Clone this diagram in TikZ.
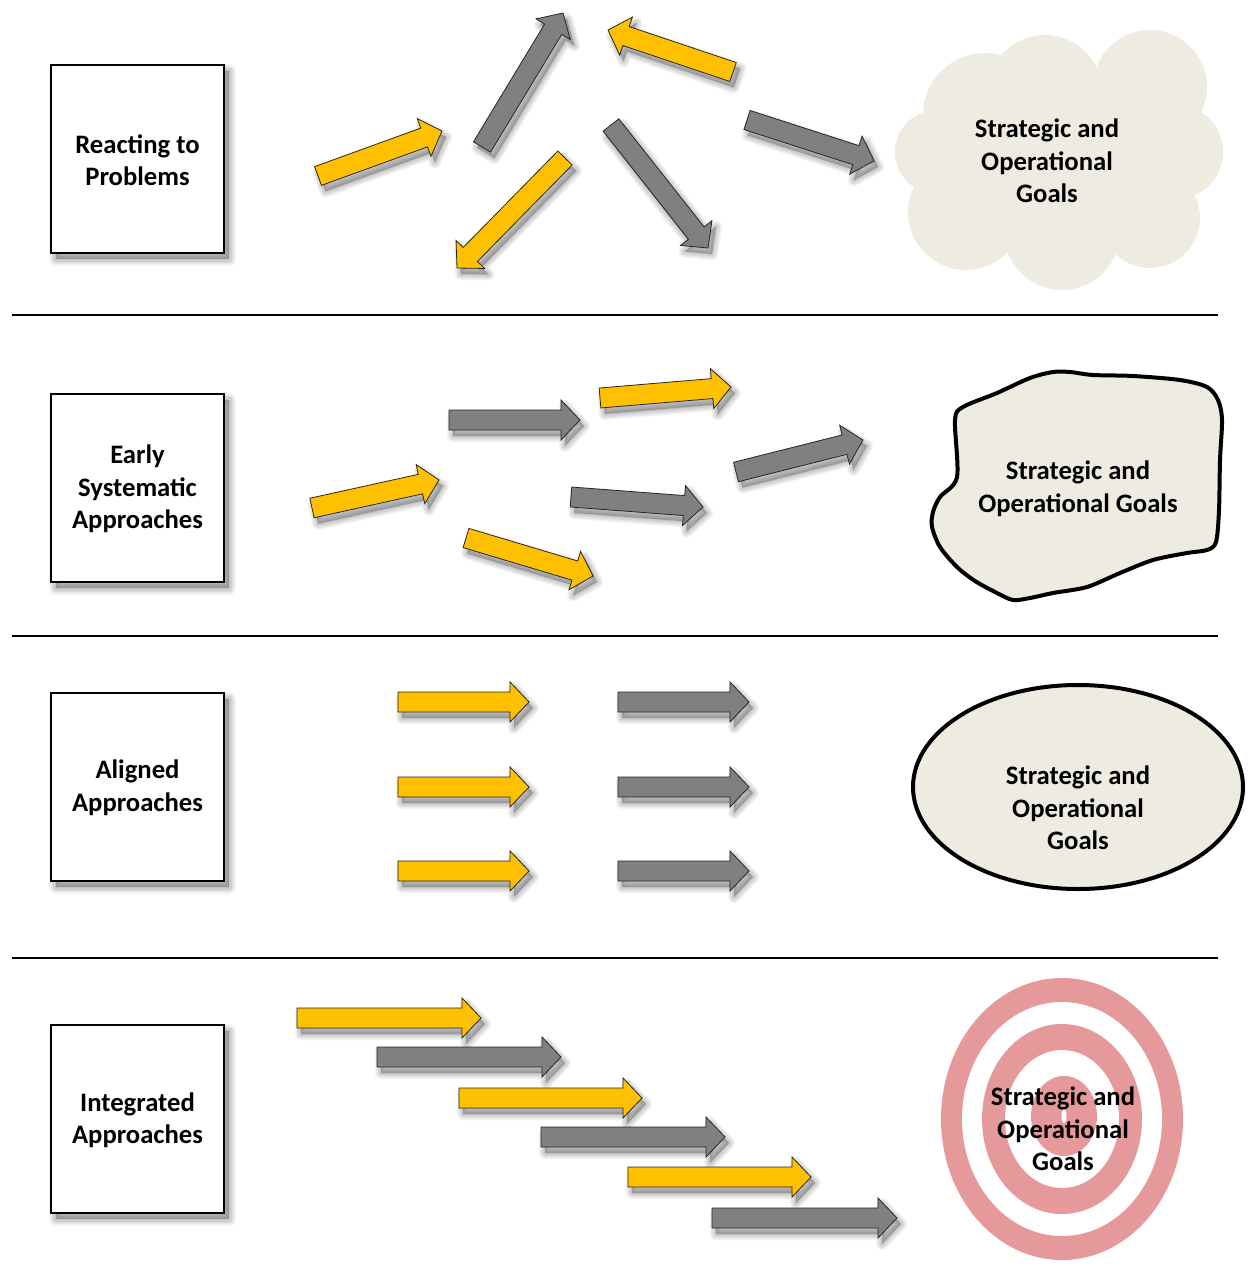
\documentclass[tikz,border=0pt]{standalone}
\usepackage{fontspec}
\setmainfont{Carlito}
\definecolor{ayellow}{HTML}{FFC000}
\definecolor{agray}{HTML}{808080}
\definecolor{beige}{HTML}{EEECE1}
\definecolor{pinkr}{HTML}{E6999A}
\tikzset{
  lbl/.style={font=\bfseries\fontsize{20}{24.4}\selectfont, align=center, inner sep=0pt},
  arrowbody/.style={draw=black!85, line width=0.6pt, line join=miter},
  stagebox/.style={draw=black, line width=1.2pt, fill=white},
  sepline/.style={draw=black, line width=1.8pt},
  shadowlayer/.style={fill=black, draw=black, fill opacity=0.05, draw opacity=0.05, line join=round}
}
\newcommand\blockarrow[5]{%
  \pgfmathsetmacro\baang{atan2(-(#4-#2),#3-#1)}%
  \pgfmathsetmacro\balen{veclen(#3-#1,#4-#2)}%
  \pgfmathsetmacro\bahs{\balen-19}%
  \foreach \lw in {9,7,5,3,1}{%
    \path[shadowlayer, line width=\lw, shift={(#1+4,#2+6)}, rotate=\baang]
      (0,-10) -- (\bahs,-10) -- (\bahs,-20) -- (\balen,0) -- (\bahs,20) -- (\bahs,10) -- (0,10) -- cycle;}
  \path[arrowbody, fill=#5, shift={(#1,#2)}, rotate=\baang]
      (0,-10) -- (\bahs,-10) -- (\bahs,-20) -- (\balen,0) -- (\bahs,20) -- (\bahs,10) -- (0,10) -- cycle;
}
\newcommand\stagebox[3]{% name, top y, text
  \foreach \lw in {10,8,6,4,2}{%
    \path[shadowlayer, line width=\lw] (51+5,#2+6) rectangle (224+5,#2+188+6);}
  \path[stagebox] (51,#2) rectangle (224,#2+188);
  \node[lbl] (#1) at (137.5,#2+95) {#3};
}
\begin{document}
\begin{tikzpicture}[x=0.75pt,y=-0.75pt]
\useasboundingbox (0,0) rectangle (1248,1276);

% separators
\coordinate (s1a) at (12,315); \coordinate (s1b) at (1218,315);
\coordinate (s2a) at (12,636); \coordinate (s2b) at (1218,636);
\coordinate (s3a) at (12,958); \coordinate (s3b) at (1218,958);
\draw[sepline] (s1a) -- (s1b);
\draw[sepline] (s2a) -- (s2b);
\draw[sepline] (s3a) -- (s3b);

% stage boxes
\stagebox{react}{65}{Reacting to\\Problems}
\stagebox{early}{394}{Early\\Systematic\\Approaches}
\stagebox{aligned}{693}{Aligned\\Approaches}
\stagebox{integrated}{1025}{Integrated\\Approaches}

% ---- section 1 arrows
\blockarrow{318}{176}{442}{131}{ayellow}
\blockarrow{482}{147}{563}{13}{agray}
\blockarrow{733}{72}{608}{30}{ayellow}
\blockarrow{747}{120}{874}{161}{agray}
\blockarrow{565}{158}{457}{268}{ayellow}
\blockarrow{611}{125}{708}{248}{agray}

% cloud
\fill[beige] (985,115) circle[radius=62];
\fill[beige] (1045,92) circle[radius=57];
\fill[beige] (1150,87) circle[radius=57];
\fill[beige] (1176,152) circle[radius=47];
\fill[beige] (1150,218) circle[radius=50];
\fill[beige] (1062,232) circle[radius=58];
\fill[beige] (966,212) circle[radius=58];
\fill[beige] (937,152) circle[radius=42];
\fill[beige] (1060,160) ellipse[x radius=125, y radius=95];
\node[lbl] (goal1) at (1047,161) {Strategic and\\Operational\\Goals};

% ---- section 2 arrows
\blockarrow{312}{508}{439}{480}{ayellow}
\blockarrow{449}{420}{580}{420}{agray}
\blockarrow{600}{398}{731}{387}{ayellow}
\blockarrow{466}{538}{593}{576}{ayellow}
\blockarrow{571}{497}{703}{507}{agray}
\blockarrow{736}{472}{863}{440}{agray}

% blob
\draw[fill=beige, line width=3pt, line join=round]
  plot[smooth cycle, tension=0.5] coordinates {
  (955,420) (957,477) (940,497) (933,512) (932,527) (940,547) (957,567)
  (975,581) (997,593) (1013,600) (1030,598) (1053,593) (1087,587) (1120,573)
  (1153,560) (1187,553) (1207,550) (1216,542) (1219,510) (1220,460) (1222,420)
  (1218,400) (1207,387) (1180,380) (1133,376) (1093,375) (1070,372) (1053,372)
  (1030,378) (997,393) (963,407)};
\node[lbl] (goal2) at (1078,489) {Strategic and\\Operational Goals};

% ---- section 3 arrows
\blockarrow{398}{702}{529}{702}{ayellow}
\blockarrow{398}{787}{529}{787}{ayellow}
\blockarrow{398}{871}{529}{871}{ayellow}
\blockarrow{618}{702}{749}{702}{agray}
\blockarrow{618}{787}{749}{787}{agray}
\blockarrow{618}{871}{749}{871}{agray}

% ellipse
\draw[fill=beige, line width=3pt] (1078,787) ellipse[x radius=165, y radius=102];
\node[lbl] (goal3) at (1078,808) {Strategic and\\Operational\\Goals};

% ---- section 4 arrows
\blockarrow{297}{1018}{481}{1018}{ayellow}
\blockarrow{377}{1057}{561}{1057}{agray}
\blockarrow{459}{1098}{642}{1098}{ayellow}
\blockarrow{541}{1137}{725}{1137}{agray}
\blockarrow{628}{1177}{811}{1177}{ayellow}
\blockarrow{712}{1218}{897}{1218}{agray}

% target
\fill[pinkr] (1062,1119) ellipse[x radius=121, y radius=141];
\fill[white] (1062,1119) ellipse[x radius=100, y radius=117];
\fill[pinkr] (1062,1119) ellipse[x radius=80, y radius=95];
\fill[white] (1062,1119) ellipse[x radius=57, y radius=69];
\fill[pinkr] (1064,1116) ellipse[x radius=33, y radius=40];
\fill[white] (1064,1116) ellipse[x radius=2.5, y radius=7];
\node[lbl] (goal4) at (1063,1129) {Strategic and\\Operational\\Goals};
\end{tikzpicture}
\end{document}
